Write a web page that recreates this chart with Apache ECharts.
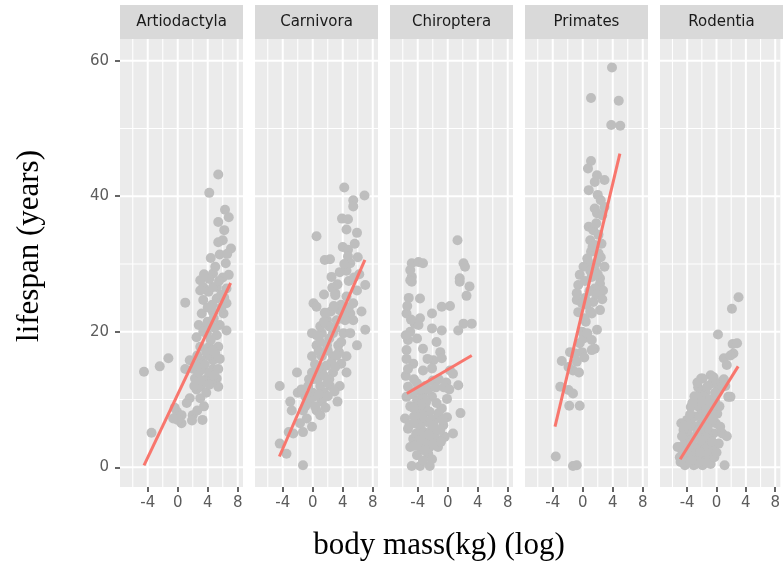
<!DOCTYPE html>
<html>
<head>
<meta charset="utf-8">
<script src="https://cdn.jsdelivr.net/npm/echarts@6/dist/echarts.min.js"></script>
<style>
  html, body { margin: 0; padding: 0; background: #fff; }
  #main { width: 783px; height: 567px; }
</style>
</head>
<body>
<div id="main"></div>
<script>
// facet names, in panel order
const orders = ['Artiodactyla', 'Carnivora', 'Chiroptera', 'Primates', 'Rodentia'];

// [log body mass, lifespan]
const artioPts = [[5.4,43.2],[4.2,40.5],[6.3,38.0],[6.8,36.9],[5.4,36.2],[5.4,33.2],[7.1,32.3],[4.4,30.9],[5.6,31.4],[6.4,30.1],[4.7,28.6],[3.0,27.6],[6.8,28.4],[3.4,26.6],[4.1,25.9],[5.2,26.6],[1.0,24.3],[3.0,26.1],[4.7,26.6],[6.5,26.4],[3.4,24.7],[5.2,24.9],[6.5,24.2],[3.2,22.7],[4.7,22.9],[6.1,22.7],[6.5,20.2],[2.5,19.2],[3.9,19.7],[5.2,19.5],[3.0,17.8],[4.2,17.8],[5.4,17.8],[1.6,15.8],[3.0,15.8],[4.7,15.8],[-1.25,16.1],[-2.4,14.9],[-4.5,14.1],[1.0,14.5],[2.1,14.5],[3.4,14.5],[4.7,14.5],[5.4,14.5],[2.3,13.1],[3.9,13.1],[5.2,13.1],[3.0,11.9],[5.4,11.9],[1.6,10.2],[3.0,10.2],[3.5,9.0],[-0.1,8.2],[0.5,7.7],[-0.6,7.2],[0.5,6.5],[2.0,7.7],[1.9,6.9],[3.3,7.0],[-3.5,5.1],[4.0,21.5],[5.6,21.0],[2.8,21.0],[4.4,18.8],[6.0,28.0],[5.8,25.5],[4.5,12.5],[3.8,11.0],[2.6,16.5],[4.0,16.5],[5.0,16.8],[6.0,33.5],[6.2,35.0],[2.5,11.5],[4.6,24.0],[4.2,27.8],[5.0,29.6],[3.6,20.5],[4.9,20.6],[6.2,25.0],[2.8,14.0],[3.6,15.2],[4.2,14.0],[3.2,12.8],[4.8,13.6],[5.6,16.0],[2.4,15.0],[3.8,17.0],[4.6,17.2],[2.2,12.0],[4.2,12.2],[3.4,20.0],[4.8,22.0],[5.8,23.6],[4.0,23.6],[5.5,27.5],[6.6,31.5],[3.5,28.5],[2.6,8.4],[1.2,9.5],[-0.4,8.8],[0.0,7.0]];
const carniPts = [[4.2,41.3],[6.9,40.1],[5.4,39.4],[5.4,38.5],[3.9,36.7],[4.7,36.6],[4.5,35.1],[5.9,34.6],[0.5,34.1],[4.0,32.5],[4.7,32.1],[4.7,31.1],[5.0,30.1],[1.6,30.6],[2.3,30.7],[2.5,28.1],[4.5,29.0],[7.0,26.9],[3.0,25.7],[5.9,26.1],[0.1,24.2],[0.5,23.7],[3.0,25.4],[4.5,25.2],[5.4,24.2],[3.6,23.2],[5.0,22.7],[1.9,21.7],[3.2,21.7],[4.3,21.7],[5.4,21.7],[7.0,20.3],[-0.1,19.8],[1.2,19.8],[2.7,19.8],[4.1,19.8],[5.0,19.8],[0.5,18.0],[1.9,18.0],[3.4,18.0],[5.9,18.0],[-0.1,16.4],[1.2,16.4],[2.7,16.4],[4.5,16.4],[-2.1,14.0],[-0.1,14.0],[1.2,14.0],[2.7,14.0],[4.5,14.0],[-4.4,12.0],[-0.6,12.0],[1.0,12.0],[2.3,12.0],[3.6,12.0],[-3.0,9.7],[-0.4,9.7],[1.2,9.7],[3.3,9.7],[-2.8,8.4],[-1.3,8.4],[0.5,8.4],[-1.7,6.5],[-0.1,6.0],[-0.8,7.2],[1.0,7.7],[-1.3,5.2],[-2.6,5.0],[-3.2,5.2],[-4.4,3.5],[-3.5,2.0],[-1.3,0.3],[0.3,15.2],[1.8,15.0],[2.2,13.0],[0.6,13.0],[1.5,11.0],[0.0,11.0],[2.9,11.2],[3.8,15.3],[3.5,17.0],[2.0,17.2],[0.8,17.2],[1.0,20.8],[2.2,20.8],[3.8,24.0],[2.4,23.0],[1.6,22.8],[4.8,27.5],[3.6,28.8],[4.2,30.0],[6.2,28.5],[6.0,31.0],[5.6,33.0],[-1.0,10.5],[0.3,9.0],[-2.0,11.0],[2.6,26.5],[6.5,23.0],[1.5,25.5],[0.0,13.0],[0.8,14.8],[1.5,13.5],[2.0,12.5],[2.5,15.5],[3.0,14.8],[3.2,16.5],[1.0,18.5],[2.2,19.0],[3.0,20.5],[0.5,19.5],[1.5,21.5],[0.3,10.5],[0.8,10.8],[-0.5,13.0],[-1.5,11.5],[-1.0,9.0],[2.0,10.5],[1.7,8.8],[3.8,18.5],[4.0,22.8],[4.8,23.6],[2.8,23.8],[3.3,27.0],[5.5,28.0]];
const chiroPts = [[1.3,33.5],[-4.8,30.1],[-3.9,30.3],[-3.3,30.1],[-5.0,29.1],[-4.8,28.1],[-5.0,27.6],[2.1,30.1],[2.3,29.6],[1.6,27.9],[2.9,26.7],[2.5,25.3],[-3.7,24.9],[-4.8,27.4],[1.6,27.4],[-5.5,22.7],[-2.1,22.7],[-0.8,23.7],[0.3,23.8],[-3.7,22.0],[-4.4,21.2],[3.2,21.2],[2.1,21.2],[-5.0,20.0],[-2.1,20.5],[-0.8,20.2],[1.4,20.2],[-5.3,18.8],[-4.1,19.0],[-5.5,17.3],[-3.3,17.5],[-1.0,17.0],[-0.8,16.1],[-1.9,15.8],[-4.6,15.3],[-3.3,14.3],[-2.1,14.6],[0.3,14.3],[0.7,13.8],[1.4,12.1],[-5.3,11.9],[-4.1,12.4],[-5.5,10.4],[-4.1,9.9],[-3.3,10.6],[-2.1,10.4],[-0.1,10.1],[-4.1,8.4],[-2.4,8.2],[-0.8,8.7],[-0.1,7.4],[-5.7,7.2],[-3.9,6.9],[-2.8,6.7],[-1.5,7.2],[1.7,8.0],[-5.3,5.7],[-3.7,6.0],[-2.1,5.7],[-0.6,6.2],[0.7,5.0],[-4.6,4.2],[-3.3,4.5],[-1.7,4.6],[-0.4,4.5],[-5.0,3.0],[-3.7,3.0],[-2.4,3.0],[-1.3,3.0],[-4.1,1.8],[-2.6,2.0],[-4.8,0.2],[-3.7,0.2],[-2.4,0.2],[-4.5,13.0],[-5.6,13.5],[-3.0,12.0],[-2.0,12.8],[-1.2,13.0],[-0.2,12.5],[-5.0,9.0],[-3.0,8.8],[-1.5,9.5],[-4.5,7.5],[-3.2,5.2],[-1.0,5.5],[-2.8,3.8],[-4.2,5.0],[-5.5,16.0],[-2.7,16.0],[-3.9,21.0],[-1.5,18.5],[-5.2,25.0],[-5.4,23.8],[-4.9,21.8],[-5.3,14.5],[-4.9,10.8],[-4.3,11.2],[-3.6,11.5],[-2.6,11.5],[-2.9,9.6],[-3.6,9.2],[-4.6,8.8],[-5.1,6.3],[-4.5,6.5],[-3.3,7.6],[-2.2,7.0],[-1.2,8.0],[-0.6,7.0],[-1.9,6.2],[-2.6,4.8],[-3.9,4.0],[-4.4,3.2],[-3.1,2.5],[-1.9,3.5],[-0.9,3.8],[-2.1,1.2],[-3.3,1.0],[-0.5,11.8],[0.2,11.5],[-1.6,11.8],[-5.6,19.5]];
const primaPts = [[3.9,59.0],[1.1,54.5],[4.8,54.1],[3.8,50.5],[5.0,50.4],[1.1,45.2],[0.7,44.1],[1.9,43.1],[2.9,42.4],[1.6,42.1],[0.8,40.9],[2.0,40.2],[2.4,39.4],[1.6,38.2],[1.9,37.5],[2.6,37.2],[2.9,38.4],[0.8,35.5],[1.4,35.0],[2.1,34.3],[1.0,33.5],[1.6,32.8],[2.5,33.0],[1.1,31.8],[2.1,31.6],[0.1,29.6],[0.7,30.1],[2.9,29.6],[1.6,29.1],[-0.4,28.4],[1.2,28.1],[2.3,27.9],[-0.6,26.9],[2.3,27.1],[2.1,26.1],[-0.8,25.7],[1.6,26.4],[2.7,26.1],[-0.8,24.7],[-0.1,24.2],[1.4,24.4],[2.3,23.2],[-0.6,22.9],[1.2,22.7],[1.9,20.3],[-0.1,20.0],[0.1,19.0],[1.2,18.8],[1.6,17.5],[-0.4,18.3],[-1.7,17.0],[-1.0,16.8],[-0.1,17.0],[1.2,17.3],[-2.8,15.7],[-0.8,15.6],[-1.3,14.3],[-1.9,14.8],[-3.0,11.9],[-1.9,11.4],[-1.3,10.9],[-1.8,9.1],[-0.4,9.1],[-3.6,1.6],[-1.3,0.2],[-0.8,0.3],[0.3,27.5],[0.9,26.0],[0.5,24.0],[0.4,21.5],[0.6,30.8],[1.8,36.0],[0.2,22.0],[2.0,28.5],[1.3,32.5],[1.8,25.5],[0.3,25.0],[1.0,23.0],[2.6,24.8],[0.6,19.8],[1.0,29.0],[2.4,31.0],[1.8,30.2],[0.2,16.2],[-0.5,14.0]];
const rodenPts = [[3.0,25.1],[2.1,23.4],[0.2,19.6],[2.2,18.2],[2.8,18.3],[1.0,16.1],[1.4,15.1],[2.3,16.8],[1.9,16.5],[-2.1,13.1],[-0.8,13.6],[-0.6,12.4],[0.3,11.6],[-2.4,10.6],[-1.5,11.1],[1.6,10.4],[-3.5,8.9],[-2.4,8.9],[-1.5,9.4],[-0.4,8.9],[-2.1,7.9],[-0.8,7.9],[0.1,7.9],[-4.8,6.5],[-3.5,6.5],[-2.1,6.5],[-1.0,6.5],[-0.1,6.5],[-3.9,5.0],[-2.6,5.0],[-1.5,5.0],[-0.4,5.0],[0.8,5.0],[1.4,4.6],[-5.0,3.0],[-3.9,3.0],[-2.6,3.0],[-1.5,3.0],[-0.4,3.0],[-5.0,1.5],[-3.9,1.5],[-2.6,1.5],[-1.5,1.5],[-4.3,0.3],[-3.1,0.3],[-1.9,0.3],[1.1,0.3],[-5.3,3.0],[-0.4,13.3],[-1.9,13.1],[-1.7,10.4],[1.9,10.4],[-3.0,7.5],[-1.8,7.2],[-4.3,4.0],[-3.2,4.2],[-2.0,4.0],[-1.0,4.2],[-4.6,2.2],[-3.4,2.2],[-2.2,2.2],[-1.0,2.0],[-0.8,0.5],[-2.8,0.5],[-3.8,0.8],[-2.8,9.8],[-1.0,10.0],[-3.8,5.8],[-0.2,11.0],[0.5,6.0],[-0.3,1.5],[-4.5,5.5],[-4.0,7.0],[-3.3,9.5],[-2.5,11.8],[-1.2,12.0],[-0.2,9.8],[0.4,9.0],[-0.5,7.2],[-1.4,8.3],[-2.8,6.0],[-3.5,3.6],[-4.7,4.6],[-4.1,2.6],[-0.6,3.8],[0.3,3.5],[0.0,2.2],[-1.6,0.6],[-2.4,0.8],[-3.4,1.1],[-4.9,0.8],[-1.2,5.8],[-2.3,5.6],[0.6,12.5],[1.0,13.0],[-3.0,10.5],[-2.0,9.8],[-3.6,7.8],[-4.4,6.2],[-2.6,12.5],[1.2,12.0]];

// end points of the fitted lines
const artioFit = [[-4.5, 0.3], [7.05, 27.2]];
const carniFit = [[-4.45, 1.6], [6.95, 30.6]];
const chiroFit = [[-5.45, 10.9], [3.2, 16.5]];
const primaFit = [[-3.7, 6.0], [4.95, 46.3]];
const rodenFit = [[-4.95, 1.2], [2.95, 14.9]];

const xTicks = [-4, 0, 4, 8];
const xMinor = [-6, -2, 2, 6];
const yTicks = [0, 20, 40, 60];
const yMinor = [10, 30, 50];

const points = [artioPts, carniPts, chiroPts, primaPts, rodenPts];
const fits = [artioFit, carniFit, chiroFit, primaFit, rodenFit];

const X_MIN = -7.7, X_MAX = 8.7;
const Y_MIN = -2.9, Y_MAX = 63.2;

const chart = echarts.init(document.getElementById('main'));

const panelLeft = i => 120 + 135 * i;
const panelW = 123;
const labelFont = { color: '#5c5c5c', fontSize: 15, fontFamily: 'DejaVu Sans' };

const grids = [], xAxes = [], yAxes = [], series = [], graphics = [];

// one white grid line as a tiny line series on panel i
function gridLine(i, from, to, width) {
  return {
    type: 'line', xAxisIndex: i, yAxisIndex: i, z: 1, silent: true,
    showSymbol: false, symbol: 'none',
    lineStyle: { color: '#ffffff', width: width },
    data: [from, to]
  };
}

orders.forEach((name, i) => {
  grids.push({
    left: panelLeft(i), top: 39, width: panelW, height: 448,
    show: true, backgroundColor: '#ebebeb', borderWidth: 0
  });
  xAxes.push({
    gridIndex: i, type: 'value', min: X_MIN, max: X_MAX,
    axisLine: { show: false, onZero: false },
    splitLine: { show: false },
    axisTick: { show: true, customValues: xTicks, length: 5, lineStyle: { color: '#333', width: 1.5 } },
    axisLabel: Object.assign({ customValues: xTicks, margin: 9 }, labelFont)
  });
  yAxes.push({
    gridIndex: i, type: 'value', min: Y_MIN, max: Y_MAX,
    axisLine: { show: false, onZero: false },
    splitLine: { show: false },
    axisTick: { show: i === 0, customValues: yTicks, length: 5, lineStyle: { color: '#333', width: 1.5 } },
    axisLabel: Object.assign({ show: i === 0, customValues: yTicks, margin: 11 }, labelFont)
  });

  // minor grid first, major on top
  xMinor.forEach(v => series.push(gridLine(i, [v, Y_MIN], [v, Y_MAX], 1.1)));
  yMinor.forEach(v => series.push(gridLine(i, [X_MIN, v], [X_MAX, v], 1.1)));
  xTicks.forEach(v => series.push(gridLine(i, [v, Y_MIN], [v, Y_MAX], 2)));
  yTicks.forEach(v => series.push(gridLine(i, [X_MIN, v], [X_MAX, v], 2)));

  series.push({
    name: name, type: 'scatter', xAxisIndex: i, yAxisIndex: i, z: 2,
    symbolSize: 10, itemStyle: { color: '#bebebe', opacity: 1 },
    data: points[i]
  });
  series.push({
    type: 'line', xAxisIndex: i, yAxisIndex: i, z: 3,
    showSymbol: false, symbol: 'none',
    lineStyle: { color: '#f8766d', width: 3 },
    data: fits[i]
  });

  // facet strip
  graphics.push({
    type: 'rect', left: panelLeft(i), top: 5,
    shape: { width: panelW, height: 34 },
    style: { fill: '#d9d9d9' }
  });
  graphics.push({
    type: 'text', x: panelLeft(i) + panelW / 2, y: 22,
    style: {
      text: name, fill: '#1a1a1a', font: '15px "DejaVu Sans"',
      align: 'center', verticalAlign: 'middle'
    }
  });
});

graphics.push({
  type: 'text', x: 439, y: 546,
  style: {
    text: 'body mass(kg) (log)', fill: '#000', font: '31px "Liberation Serif"',
    align: 'center', verticalAlign: 'middle'
  }
});
graphics.push({
  type: 'text', x: 30, y: 246, rotation: Math.PI / 2,
  style: {
    text: 'lifespan (years)', fill: '#000', font: '31px "Liberation Serif"',
    align: 'center', verticalAlign: 'middle'
  }
});

chart.setOption({
  animation: false,
  backgroundColor: '#ffffff',
  grid: grids,
  xAxis: xAxes,
  yAxis: yAxes,
  series: series,
  graphic: graphics
});
</script>
</body>
</html>
